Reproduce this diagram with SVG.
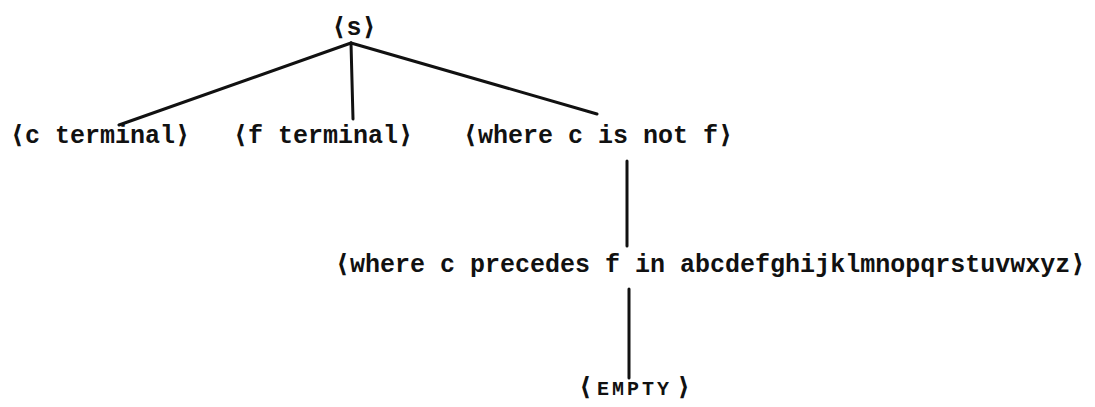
<svg xmlns="http://www.w3.org/2000/svg" width="1095" height="407" viewBox="0 0 1095 407">
<style>
text{font-family:"Liberation Mono","DejaVu Sans Mono",monospace;font-weight:bold;font-size:25px;fill:#111}
.sc{font-size:20px;letter-spacing:3px}
line{stroke:#111;stroke-width:3;stroke-linecap:round}
</style>
<rect width="1095" height="407" fill="#fff"/>
<g id="connectors">
<line x1="351" y1="43" x2="119" y2="125"/>
<line x1="351" y1="43" x2="353" y2="119"/>
<line x1="351" y1="43" x2="597" y2="114"/>
<line x1="627" y1="161" x2="627" y2="246"/>
<line x1="629" y1="289" x2="629" y2="378"/>
</g>
<g id="n_s"><text x="354" y="35" text-anchor="middle">⟨s⟩</text></g>
<g id="n_c"><text x="10" y="143">⟨c terminal⟩</text></g>
<g id="n_f"><text x="233" y="143">⟨f terminal⟩</text></g>
<g id="n_where"><text x="463" y="143">⟨where c is not f⟩</text></g>
<g id="n_precedes"><text x="335" y="272">⟨where c precedes f in abcdefghijklmnopqrstuvwxyz⟩</text></g>
<g id="n_empty"><text y="395"><tspan x="578">⟨</tspan><tspan class="sc" x="597">EMPTY</tspan><tspan x="676">⟩</tspan></text></g>
</svg>
